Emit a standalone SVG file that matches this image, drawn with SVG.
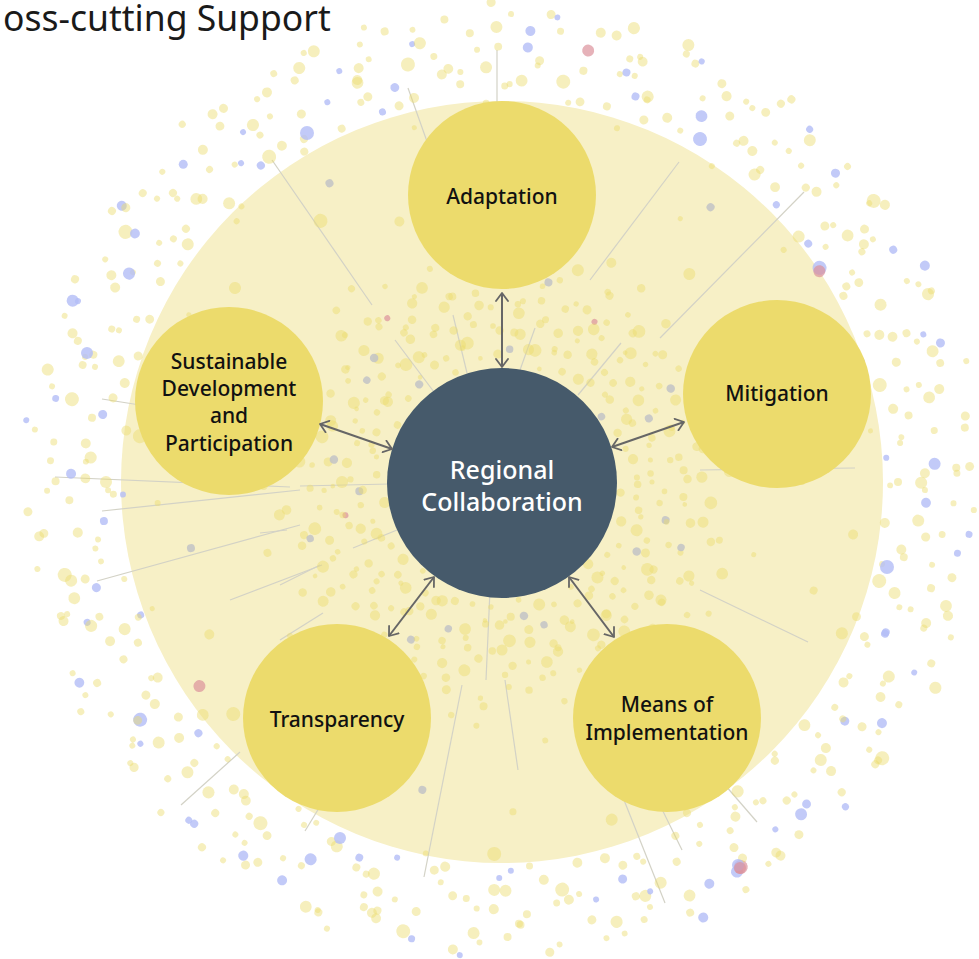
<svg xmlns="http://www.w3.org/2000/svg" width="979" height="959" viewBox="0 0 979 959">
<style>
.bg{fill:#f7f0c6}
.sat{fill:#ecdb6c}
.hub{fill:#465a6b}
.dl{stroke:#d3d2c6;stroke-width:1.2;fill:none}
.dots circle{fill:#ecdb6c;fill-opacity:.45}
.dots circle.b{fill:#b3bdf6;fill-opacity:.8}
.dots circle.r{fill:#dc919b;fill-opacity:.7}
.dots circle.g{fill:#c2c3c6;fill-opacity:.85}
.dots circle.h{fill:#ecdb6c;fill-opacity:.45}
.lbl{font-family:"Noto Sans","Open Sans","Liberation Sans",sans-serif;font-size:21px;fill:#111;text-anchor:middle;font-weight:500}
.hl{font-family:"Noto Sans","Open Sans","Liberation Sans",sans-serif;font-size:25px;fill:#fff;text-anchor:middle;font-weight:500}
.title{font-family:"Noto Sans","Open Sans","Liberation Sans",sans-serif;font-size:35.5px;fill:#1a1a1a}
.arr{stroke:#666;stroke-width:2;fill:none;marker-start:url(#chev);marker-end:url(#chev)}
</style>
<defs>
<marker id="chev" viewBox="0 0 10 14" refX="9" refY="7" markerWidth="10" markerHeight="14" markerUnits="userSpaceOnUse" orient="auto-start-reverse">
<path d="M1,1 L9,7 L1,13" fill="none" stroke="#666" stroke-width="1.8" stroke-linecap="round" stroke-linejoin="round"/>
</marker>
</defs>
<rect width="979" height="959" fill="#fff"/>
<circle class="bg" cx="502" cy="482" r="381"/>
<g id="rays">
<path class="dl" d="M497,50 L497,150"/>
<path class="dl" d="M408,88 L430,150"/>
<path class="dl" d="M272,160 L372,305"/>
<path class="dl" d="M804,192 L660,338"/>
<path class="dl" d="M679,162 L590,280"/>
<path class="dl" d="M55,477 L290,487"/>
<path class="dl" d="M102,511 L300,490"/>
<path class="dl" d="M97,581 L300,525"/>
<path class="dl" d="M102,399 L140,405"/>
<path class="dl" d="M181,805 L240,752"/>
<path class="dl" d="M305,831 L330,790"/>
<path class="dl" d="M424,877 L462,685"/>
<path class="dl" d="M490,590 L486,680"/>
<path class="dl" d="M505,680 L518,770"/>
<path class="dl" d="M665,903 L620,790"/>
<path class="dl" d="M682,850 L655,795"/>
<path class="dl" d="M757,822 L725,785"/>
<path class="dl" d="M808,642 L700,590"/>
<path class="dl" d="M855,468 L700,470"/>
<path class="dl" d="M395,340 L440,400"/>
<path class="dl" d="M453,315 L467,373"/>
<path class="dl" d="M535,328 L520,370"/>
<path class="dl" d="M621,343 L578,395"/>
<path class="dl" d="M300,486 L390,484"/>
<path class="dl" d="M353,548 L397,530"/>
<path class="dl" d="M230,600 L322,565"/>
<path class="dl" d="M260,533 L287,530"/>
<path class="dl" d="M280,585 L320,565"/>
<path class="dl" d="M323,613 L280,640"/>
</g>
<g class="dots" transform="translate(502 482)">
<g id="outerA">
<circle cx="396" r="4" transform="rotate(0)"/>
<circle cx="452" r="3" transform="rotate(2.7)"/>
<circle cx="418" r="6" transform="rotate(5.3)"/>
<circle class="b" cx="470" r="3.5" transform="rotate(6.4)"/>
<circle cx="405" r="5" transform="rotate(9.6)"/>
<circle cx="438" r="3" transform="rotate(10.9)"/>
<circle cx="460" r="4.5" transform="rotate(12)"/>
<circle cx="390" r="7" transform="rotate(14.7)"/>
<circle cx="428" r="3" transform="rotate(17.3)"/>
<circle cx="447" r="5" transform="rotate(18.4)"/>
<circle class="b" cx="412" r="4" transform="rotate(21.6)"/>
<circle cx="466" r="4" transform="rotate(22.9)"/>
<circle cx="400" r="3" transform="rotate(24)"/>
<circle cx="433" r="6" transform="rotate(26.7)"/>
<circle cx="455" r="3.5" transform="rotate(29.3)"/>
<circle cx="396" r="5" transform="rotate(30.4)"/>
<circle cx="452" r="3" transform="rotate(33.6)"/>
<circle class="b" cx="418" r="4.5" transform="rotate(34.9)"/>
<circle cx="470" r="7" transform="rotate(36)"/>
<circle cx="405" r="3" transform="rotate(38.7)"/>
<circle cx="438" r="5" transform="rotate(41.3)"/>
<circle cx="460" r="4" transform="rotate(42.4)"/>
<circle cx="390" r="4" transform="rotate(45.6)"/>
<circle cx="428" r="3" transform="rotate(46.9)"/>
<circle class="b" cx="447" r="6" transform="rotate(48)"/>
<circle cx="412" r="3.5" transform="rotate(50.7)"/>
<circle cx="466" r="5" transform="rotate(53.3)"/>
<circle cx="400" r="3" transform="rotate(54.4)"/>
<circle cx="433" r="4.5" transform="rotate(57.6)"/>
<circle class="b" cx="455" r="6" transform="rotate(58.9)"/>
<circle class="r" cx="453" r="7" transform="rotate(58.2)"/>
<circle cx="396" r="3" transform="rotate(60)"/>
<circle class="b" cx="452" r="5" transform="rotate(62.7)"/>
<circle cx="418" r="4" transform="rotate(65.3)"/>
<circle cx="470" r="4" transform="rotate(66.4)"/>
<circle cx="405" r="3" transform="rotate(69.6)"/>
<circle cx="438" r="6" transform="rotate(70.9)"/>
<circle cx="460" r="3.5" transform="rotate(72)"/>
<circle cx="390" r="5" transform="rotate(74.7)"/>
<circle class="b" cx="428" r="3" transform="rotate(77.3)"/>
<circle cx="447" r="4.5" transform="rotate(78.4)"/>
<circle cx="412" r="7" transform="rotate(81.6)"/>
<circle cx="466" r="3" transform="rotate(82.9)"/>
<circle cx="400" r="5" transform="rotate(84)"/>
<circle cx="433" r="4" transform="rotate(86.7)"/>
<circle cx="455" r="4" transform="rotate(89.3)"/>
<circle class="b" cx="396" r="3" transform="rotate(90.4)"/>
<circle cx="452" r="6" transform="rotate(93.6)"/>
<circle cx="418" r="3.5" transform="rotate(94.9)"/>
<circle cx="470" r="5" transform="rotate(96)"/>
<circle cx="405" r="3" transform="rotate(98.7)"/>
<circle cx="438" r="4.5" transform="rotate(101.3)"/>
<circle cx="460" r="7" transform="rotate(102.4)"/>
<circle class="b" cx="390" r="3" transform="rotate(105.6)"/>
<circle cx="428" r="5" transform="rotate(106.9)"/>
<circle cx="447" r="4" transform="rotate(108)"/>
<circle cx="412" r="4" transform="rotate(110.7)"/>
<circle cx="466" r="3" transform="rotate(113.3)"/>
<circle cx="400" r="6" transform="rotate(114.4)"/>
<circle cx="433" r="3.5" transform="rotate(117.6)"/>
<circle class="b" cx="455" r="5" transform="rotate(118.9)"/>
<circle cx="396" r="3" transform="rotate(120)"/>
<circle cx="452" r="4.5" transform="rotate(122.7)"/>
<circle cx="418" r="7" transform="rotate(125.3)"/>
<circle cx="470" r="3" transform="rotate(126.4)"/>
<circle cx="405" r="5" transform="rotate(129.6)"/>
<circle cx="438" r="4" transform="rotate(130.9)"/>
<circle class="b" cx="460" r="4" transform="rotate(132)"/>
<circle cx="390" r="3" transform="rotate(134.7)"/>
<circle cx="428" r="6" transform="rotate(137.3)"/>
<circle cx="447" r="3.5" transform="rotate(138.4)"/>
<circle cx="412" r="5" transform="rotate(141.6)"/>
<circle cx="466" r="3" transform="rotate(142.9)"/>
<circle cx="400" r="4.5" transform="rotate(144)"/>
<circle class="b" cx="433" r="7" transform="rotate(146.7)"/>
<circle cx="455" r="3" transform="rotate(149.3)"/>
<circle cx="396" r="5" transform="rotate(150.4)"/>
<circle cx="452" r="4" transform="rotate(153.6)"/>
<circle cx="418" r="4" transform="rotate(154.9)"/>
<circle cx="470" r="3" transform="rotate(156)"/>
<circle cx="405" r="6" transform="rotate(158.7)"/>
<circle class="b" cx="438" r="3.5" transform="rotate(161.3)"/>
<circle cx="460" r="5" transform="rotate(162.4)"/>
<circle cx="390" r="3" transform="rotate(165.6)"/>
<circle cx="428" r="4.5" transform="rotate(166.9)"/>
<circle cx="447" r="7" transform="rotate(168)"/>
<circle cx="412" r="3" transform="rotate(170.7)"/>
<circle cx="466" r="5" transform="rotate(173.3)"/>
<circle class="b" cx="400" r="4" transform="rotate(174.4)"/>
<circle cx="433" r="4" transform="rotate(177.6)"/>
<circle cx="455" r="3" transform="rotate(178.9)"/>
<circle cx="396" r="6" transform="rotate(180)"/>
<circle cx="452" r="3.5" transform="rotate(182.7)"/>
<circle cx="418" r="5" transform="rotate(185.3)"/>
<circle cx="470" r="3" transform="rotate(186.4)"/>
<circle class="b" cx="405" r="4.5" transform="rotate(189.6)"/>
<circle cx="438" r="7" transform="rotate(190.9)"/>
<circle cx="460" r="3" transform="rotate(192)"/>
<circle cx="390" r="5" transform="rotate(194.7)"/>
<circle cx="428" r="4" transform="rotate(197.3)"/>
<circle cx="447" r="4" transform="rotate(198.4)"/>
<circle cx="412" r="3" transform="rotate(201.6)"/>
<circle class="b" cx="466" r="6" transform="rotate(202.9)"/>
<circle cx="400" r="3.5" transform="rotate(204)"/>
<circle cx="433" r="5" transform="rotate(206.7)"/>
<circle cx="455" r="3" transform="rotate(209.3)"/>
<circle cx="396" r="4.5" transform="rotate(210.4)"/>
<circle cx="452" r="7" transform="rotate(213.6)"/>
<circle cx="418" r="3" transform="rotate(214.9)"/>
<circle class="b" cx="470" r="5" transform="rotate(216)"/>
<circle cx="405" r="4" transform="rotate(218.7)"/>
<circle cx="438" r="4" transform="rotate(221.3)"/>
<circle cx="460" r="3" transform="rotate(222.4)"/>
<circle cx="390" r="6" transform="rotate(225.6)"/>
<circle cx="428" r="3.5" transform="rotate(226.9)"/>
<circle cx="447" r="5" transform="rotate(228)"/>
<circle class="b" cx="412" r="3" transform="rotate(230.7)"/>
<circle cx="466" r="4.5" transform="rotate(233.3)"/>
<circle cx="400" r="7" transform="rotate(234.4)"/>
<circle cx="433" r="3" transform="rotate(237.6)"/>
<circle cx="455" r="5" transform="rotate(238.9)"/>
<circle cx="396" r="4" transform="rotate(240)"/>
<circle cx="452" r="4" transform="rotate(242.7)"/>
<circle class="b" cx="418" r="3" transform="rotate(245.3)"/>
<circle cx="470" r="6" transform="rotate(246.4)"/>
<circle cx="405" r="3.5" transform="rotate(249.6)"/>
<circle cx="438" r="5" transform="rotate(250.9)"/>
<circle cx="460" r="3" transform="rotate(252)"/>
<circle cx="390" r="4.5" transform="rotate(254.7)"/>
<circle cx="428" r="7" transform="rotate(257.3)"/>
<circle class="b" cx="447" r="3" transform="rotate(258.4)"/>
<circle cx="412" r="5" transform="rotate(261.6)"/>
<circle cx="466" r="4" transform="rotate(262.9)"/>
<circle cx="400" r="4" transform="rotate(264)"/>
<circle cx="433" r="3" transform="rotate(266.7)"/>
<circle cx="455" r="6" transform="rotate(269.3)"/>
<circle cx="396" r="3.5" transform="rotate(270.4)"/>
<circle class="b" cx="452" r="5" transform="rotate(273.6)"/>
<circle cx="418" r="3" transform="rotate(274.9)"/>
<circle cx="470" r="4.5" transform="rotate(276)"/>
<circle cx="405" r="7" transform="rotate(278.7)"/>
<circle class="r" cx="440" r="6" transform="rotate(281.3)"/>
<circle cx="460" r="5" transform="rotate(282.4)"/>
<circle cx="390" r="4" transform="rotate(285.6)"/>
<circle class="b" cx="428" r="4" transform="rotate(286.9)"/>
<circle cx="447" r="3" transform="rotate(288)"/>
<circle cx="412" r="6" transform="rotate(290.7)"/>
<circle cx="466" r="3.5" transform="rotate(293.3)"/>
<circle cx="400" r="5" transform="rotate(294.4)"/>
<circle cx="433" r="3" transform="rotate(297.6)"/>
<circle cx="455" r="4.5" transform="rotate(298.9)"/>
<circle class="b" cx="396" r="7" transform="rotate(300)"/>
<circle cx="452" r="3" transform="rotate(302.7)"/>
<circle cx="418" r="5" transform="rotate(305.3)"/>
<circle cx="470" r="4" transform="rotate(306.4)"/>
<circle cx="405" r="4" transform="rotate(309.6)"/>
<circle cx="438" r="3" transform="rotate(310.9)"/>
<circle cx="460" r="6" transform="rotate(312)"/>
<circle class="b" cx="390" r="3.5" transform="rotate(314.7)"/>
<circle cx="428" r="5" transform="rotate(317.3)"/>
<circle cx="447" r="3" transform="rotate(318.4)"/>
<circle cx="412" r="4.5" transform="rotate(321.6)"/>
<circle cx="466" r="7" transform="rotate(322.9)"/>
<circle cx="400" r="3" transform="rotate(324)"/>
<circle cx="433" r="5" transform="rotate(326.7)"/>
<circle class="b" cx="383" r="7" transform="rotate(326)"/>
<circle class="r" cx="381" r="6" transform="rotate(326.4)"/>
<circle class="b" cx="455" r="4" transform="rotate(329.3)"/>
<circle cx="396" r="4" transform="rotate(330.4)"/>
<circle cx="452" r="3" transform="rotate(333.6)"/>
<circle cx="418" r="6" transform="rotate(334.9)"/>
<circle cx="470" r="3.5" transform="rotate(336)"/>
<circle cx="405" r="5" transform="rotate(338.7)"/>
<circle cx="438" r="3" transform="rotate(341.3)"/>
<circle class="b" cx="460" r="4.5" transform="rotate(342.4)"/>
<circle cx="390" r="7" transform="rotate(345.6)"/>
<circle cx="428" r="3" transform="rotate(346.9)"/>
<circle cx="447" r="5" transform="rotate(348)"/>
<circle cx="412" r="4" transform="rotate(350.7)"/>
<circle cx="466" r="4" transform="rotate(353.3)"/>
<circle cx="400" r="3" transform="rotate(354.4)"/>
<circle class="b" cx="433" r="6" transform="rotate(357.6)"/>
<circle cx="455" r="3.5" transform="rotate(358.9)"/>
</g>
<g id="outerB">
<circle cx="423" r="3" transform="rotate(1.1)"/>
<circle cx="385" r="5" transform="rotate(6.1)"/>
<circle class="b" cx="461" r="3.5" transform="rotate(8.9)"/>
<circle cx="442" r="4" transform="rotate(13.9)"/>
<circle cx="408" r="6" transform="rotate(15.8)"/>
<circle cx="475" r="3" transform="rotate(19.1)"/>
<circle cx="394" r="4.5" transform="rotate(23.1)"/>
<circle cx="431" r="3" transform="rotate(27.9)"/>
<circle class="b" cx="450" r="5" transform="rotate(32.4)"/>
<circle cx="415" r="3.5" transform="rotate(34.8)"/>
<circle cx="468" r="4" transform="rotate(37.1)"/>
<circle cx="423" r="6" transform="rotate(41.1)"/>
<circle cx="385" r="3" transform="rotate(44.9)"/>
<circle cx="461" r="4.5" transform="rotate(49.9)"/>
<circle class="b" cx="442" r="3" transform="rotate(51.8)"/>
<circle cx="408" r="5" transform="rotate(55.1)"/>
<circle cx="475" r="3.5" transform="rotate(59.1)"/>
<circle cx="394" r="4" transform="rotate(63.9)"/>
<circle cx="431" r="6" transform="rotate(68.4)"/>
<circle cx="450" r="3" transform="rotate(70.8)"/>
<circle class="b" cx="415" r="4.5" transform="rotate(73.1)"/>
<circle cx="468" r="3" transform="rotate(77.1)"/>
<circle cx="423" r="5" transform="rotate(80.9)"/>
<circle cx="385" r="3.5" transform="rotate(85.9)"/>
<circle cx="442" r="4" transform="rotate(87.8)"/>
<circle cx="408" r="6" transform="rotate(91.1)"/>
<circle class="b" cx="475" r="3" transform="rotate(95.1)"/>
<circle cx="394" r="4.5" transform="rotate(99.9)"/>
<circle cx="431" r="3" transform="rotate(104.4)"/>
<circle cx="450" r="5" transform="rotate(106.8)"/>
<circle cx="415" r="3.5" transform="rotate(109.1)"/>
<circle cx="468" r="4" transform="rotate(113.1)"/>
<circle class="b" cx="423" r="6" transform="rotate(116.9)"/>
<circle cx="385" r="3" transform="rotate(121.9)"/>
<circle cx="461" r="4.5" transform="rotate(123.8)"/>
<circle cx="442" r="3" transform="rotate(127.1)"/>
<circle cx="408" r="5" transform="rotate(131.1)"/>
<circle cx="475" r="3.5" transform="rotate(135.9)"/>
<circle class="b" cx="394" r="4" transform="rotate(140.4)"/>
<circle cx="431" r="6" transform="rotate(142.8)"/>
<circle cx="450" r="3" transform="rotate(145.1)"/>
<circle cx="415" r="4.5" transform="rotate(149.1)"/>
<circle cx="468" r="3" transform="rotate(152.9)"/>
<circle cx="423" r="5" transform="rotate(157.9)"/>
<circle class="b" cx="385" r="3.5" transform="rotate(159.8)"/>
<circle cx="461" r="4" transform="rotate(163.1)"/>
<circle cx="442" r="6" transform="rotate(167.1)"/>
<circle cx="408" r="3" transform="rotate(171.9)"/>
<circle cx="475" r="4.5" transform="rotate(176.4)"/>
<circle cx="394" r="3" transform="rotate(178.8)"/>
<circle class="b" cx="431" r="5" transform="rotate(181.1)"/>
<circle cx="450" r="3.5" transform="rotate(185.1)"/>
<circle cx="415" r="4" transform="rotate(188.9)"/>
<circle cx="468" r="6" transform="rotate(193.9)"/>
<circle cx="423" r="3" transform="rotate(195.8)"/>
<circle cx="385" r="4.5" transform="rotate(199.1)"/>
<circle class="b" cx="461" r="3" transform="rotate(203.1)"/>
<circle cx="442" r="5" transform="rotate(207.9)"/>
<circle cx="408" r="3.5" transform="rotate(212.4)"/>
<circle cx="475" r="4" transform="rotate(214.8)"/>
<circle cx="394" r="6" transform="rotate(217.1)"/>
<circle cx="431" r="3" transform="rotate(221.1)"/>
<circle class="b" cx="450" r="4.5" transform="rotate(224.9)"/>
<circle cx="415" r="3" transform="rotate(229.9)"/>
<circle cx="468" r="5" transform="rotate(231.8)"/>
<circle cx="423" r="3.5" transform="rotate(235.1)"/>
<circle cx="385" r="4" transform="rotate(239.1)"/>
<circle cx="461" r="6" transform="rotate(243.9)"/>
<circle class="b" cx="442" r="3" transform="rotate(248.4)"/>
<circle cx="408" r="4.5" transform="rotate(250.8)"/>
<circle cx="475" r="3" transform="rotate(253.1)"/>
<circle cx="394" r="5" transform="rotate(257.1)"/>
<circle cx="431" r="3.5" transform="rotate(260.9)"/>
<circle cx="450" r="4" transform="rotate(265.9)"/>
<circle cx="415" r="6" transform="rotate(267.8)"/>
<circle cx="468" r="3" transform="rotate(271.1)"/>
<circle cx="423" r="4.5" transform="rotate(275.1)"/>
<circle cx="385" r="3" transform="rotate(279.9)"/>
<circle cx="461" r="5" transform="rotate(284.4)"/>
<circle cx="442" r="3.5" transform="rotate(286.8)"/>
<circle class="b" cx="408" r="4" transform="rotate(289.1)"/>
<circle cx="475" r="6" transform="rotate(293.1)"/>
<circle cx="394" r="3" transform="rotate(296.9)"/>
<circle cx="431" r="4.5" transform="rotate(301.9)"/>
<circle cx="450" r="3" transform="rotate(303.8)"/>
<circle cx="415" r="5" transform="rotate(307.1)"/>
<circle class="b" cx="468" r="3.5" transform="rotate(311.1)"/>
<circle cx="423" r="4" transform="rotate(315.9)"/>
<circle cx="385" r="6" transform="rotate(320.4)"/>
<circle cx="461" r="3" transform="rotate(322.8)"/>
<circle cx="442" r="4.5" transform="rotate(325.1)"/>
<circle cx="408" r="3" transform="rotate(329.1)"/>
<circle class="b" cx="475" r="5" transform="rotate(332.9)"/>
<circle cx="394" r="3.5" transform="rotate(337.9)"/>
<circle cx="431" r="4" transform="rotate(339.8)"/>
<circle cx="450" r="6" transform="rotate(343.1)"/>
<circle cx="415" r="3" transform="rotate(347.1)"/>
<circle cx="468" r="4.5" transform="rotate(351.9)"/>
<circle class="b" cx="385" r="3" transform="rotate(356.4)"/>
<circle cx="423" r="5" transform="rotate(358.8)"/>
</g>
<use href="#outerB" transform="rotate(181.7) scale(0.985)"/>
<use href="#outerB" transform="rotate(92.3) scale(1.01)"/>
<g id="midring">
<circle cx="300" r="3" transform="rotate(0)"/>
<circle cx="355" r="5" transform="rotate(8.5)"/>
<circle cx="262" r="2.5" transform="rotate(16.1)"/>
<circle cx="330" r="4" transform="rotate(19.2)"/>
<circle cx="372" r="6" transform="rotate(24)"/>
<circle cx="245" r="3" transform="rotate(32.5)"/>
<circle class="g" cx="318" r="4" transform="rotate(40.1)"/>
<circle cx="345" r="7" transform="rotate(43.2)"/>
<circle cx="280" r="3" transform="rotate(48)"/>
<circle cx="365" r="5" transform="rotate(56.5)"/>
<circle cx="295" r="2.5" transform="rotate(64.1)"/>
<circle cx="300" r="4" transform="rotate(67.2)"/>
<circle cx="355" r="6" transform="rotate(72)"/>
<circle cx="262" r="3" transform="rotate(80.5)"/>
<circle cx="330" r="3.5" transform="rotate(88.1)"/>
<circle cx="372" r="7" transform="rotate(91.2)"/>
<circle cx="245" r="3" transform="rotate(96)"/>
<circle class="g" cx="318" r="4" transform="rotate(104.5)"/>
<circle cx="345" r="2.5" transform="rotate(112.1)"/>
<circle cx="280" r="4" transform="rotate(115.2)"/>
<circle cx="365" r="6" transform="rotate(120)"/>
<circle cx="295" r="3" transform="rotate(128.5)"/>
<circle cx="300" r="3.5" transform="rotate(136.1)"/>
<circle cx="355" r="7" transform="rotate(139.2)"/>
<circle cx="262" r="3" transform="rotate(144)"/>
<circle cx="330" r="5" transform="rotate(152.5)"/>
<circle cx="372" r="2.5" transform="rotate(160.1)"/>
<circle cx="245" r="4" transform="rotate(163.2)"/>
<circle class="g" cx="318" r="4" transform="rotate(168)"/>
<circle cx="345" r="3" transform="rotate(176.5)"/>
<circle cx="280" r="3.5" transform="rotate(184.1)"/>
<circle cx="365" r="7" transform="rotate(187.2)"/>
<circle cx="295" r="3" transform="rotate(192)"/>
<circle cx="300" r="5" transform="rotate(200.5)"/>
<circle cx="355" r="2.5" transform="rotate(208.1)"/>
<circle cx="262" r="4" transform="rotate(211.2)"/>
<circle cx="330" r="6" transform="rotate(216)"/>
<circle cx="372" r="3" transform="rotate(224.5)"/>
<circle cx="245" r="3.5" transform="rotate(232.1)"/>
<circle cx="318" r="7" transform="rotate(235.2)"/>
<circle class="g" cx="345" r="4" transform="rotate(240)"/>
<circle cx="280" r="5" transform="rotate(248.5)"/>
<circle cx="365" r="2.5" transform="rotate(256.1)"/>
<circle cx="295" r="4" transform="rotate(259.2)"/>
<circle cx="300" r="6" transform="rotate(264)"/>
<circle cx="355" r="3" transform="rotate(272.5)"/>
<circle cx="262" r="3.5" transform="rotate(280.1)"/>
<circle cx="330" r="7" transform="rotate(283.2)"/>
<circle cx="372" r="3" transform="rotate(288)"/>
<circle cx="245" r="5" transform="rotate(296.5)"/>
<circle cx="318" r="2.5" transform="rotate(304.1)"/>
<circle class="g" cx="345" r="4" transform="rotate(307.2)"/>
<circle cx="280" r="6" transform="rotate(312)"/>
<circle cx="365" r="3" transform="rotate(320.5)"/>
<circle cx="295" r="3.5" transform="rotate(328.1)"/>
<circle cx="300" r="7" transform="rotate(331.2)"/>
<circle cx="262" r="3" transform="rotate(336)"/>
<circle cx="330" r="5" transform="rotate(344.5)"/>
<circle cx="372" r="2.5" transform="rotate(352.1)"/>
<circle cx="245" r="4" transform="rotate(355.2)"/>
<circle class="r" cx="365" r="6" transform="rotate(146)"/>
<circle class="r" cx="200" r="3" transform="rotate(235)"/>
<circle class="r" cx="185" r="3" transform="rotate(300)"/>
<circle class="r" cx="160" r="3" transform="rotate(168)"/>
<circle class="r" cx="210" r="5" transform="rotate(56)"/>
</g>
<g id="inner">
<circle cx="150" r="2.5" transform="rotate(0)"/>
<circle cx="182" r="4" transform="rotate(4.7)"/>
<circle cx="135" r="3" transform="rotate(6.6)"/>
<circle cx="205" r="5.5" transform="rotate(11.3)"/>
<circle class="g" cx="168" r="4" transform="rotate(13.1)"/>
<circle cx="225" r="3.5" transform="rotate(15)"/>
<circle cx="143" r="6" transform="rotate(19.7)"/>
<circle cx="192" r="3" transform="rotate(21.6)"/>
<circle cx="160" r="4.5" transform="rotate(26.3)"/>
<circle cx="215" r="2.5" transform="rotate(28.1)"/>
<circle cx="175" r="4" transform="rotate(30)"/>
<circle cx="128" r="3" transform="rotate(34.7)"/>
<circle cx="198" r="5.5" transform="rotate(36.6)"/>
<circle class="h" cx="150" r="4" transform="rotate(41.3)"/>
<circle cx="182" r="3.5" transform="rotate(43.1)"/>
<circle cx="135" r="6" transform="rotate(45)"/>
<circle cx="205" r="3" transform="rotate(49.7)"/>
<circle cx="168" r="4.5" transform="rotate(51.6)"/>
<circle cx="225" r="2.5" transform="rotate(56.3)"/>
<circle cx="143" r="4" transform="rotate(58.1)"/>
<circle cx="192" r="3" transform="rotate(60)"/>
<circle cx="160" r="5.5" transform="rotate(64.7)"/>
<circle class="g" cx="215" r="4" transform="rotate(66.6)"/>
<circle cx="175" r="3.5" transform="rotate(71.3)"/>
<circle cx="128" r="6" transform="rotate(73.1)"/>
<circle cx="198" r="3" transform="rotate(75)"/>
<circle cx="150" r="4.5" transform="rotate(79.7)"/>
<circle cx="182" r="2.5" transform="rotate(81.6)"/>
<circle cx="135" r="4" transform="rotate(86.3)"/>
<circle cx="205" r="3" transform="rotate(88.1)"/>
<circle cx="168" r="5.5" transform="rotate(90)"/>
<circle class="h" cx="225" r="4" transform="rotate(94.7)"/>
<circle cx="143" r="3.5" transform="rotate(96.6)"/>
<circle cx="192" r="6" transform="rotate(101.3)"/>
<circle cx="160" r="3" transform="rotate(103.1)"/>
<circle cx="215" r="4.5" transform="rotate(105)"/>
<circle cx="175" r="2.5" transform="rotate(109.7)"/>
<circle cx="128" r="4" transform="rotate(111.6)"/>
<circle cx="198" r="3" transform="rotate(116.3)"/>
<circle cx="150" r="5.5" transform="rotate(118.1)"/>
<circle class="g" cx="182" r="4" transform="rotate(120)"/>
<circle cx="135" r="3.5" transform="rotate(124.7)"/>
<circle cx="205" r="6" transform="rotate(126.6)"/>
<circle cx="168" r="3" transform="rotate(131.3)"/>
<circle cx="225" r="4.5" transform="rotate(133.1)"/>
<circle cx="143" r="2.5" transform="rotate(135)"/>
<circle cx="192" r="4" transform="rotate(139.7)"/>
<circle cx="160" r="3" transform="rotate(141.6)"/>
<circle cx="215" r="5.5" transform="rotate(146.3)"/>
<circle class="h" cx="175" r="4" transform="rotate(148.1)"/>
<circle cx="128" r="3.5" transform="rotate(150)"/>
<circle cx="198" r="6" transform="rotate(154.7)"/>
<circle cx="150" r="3" transform="rotate(156.6)"/>
<circle cx="182" r="4.5" transform="rotate(161.3)"/>
<circle cx="135" r="2.5" transform="rotate(163.1)"/>
<circle cx="205" r="4" transform="rotate(165)"/>
<circle cx="168" r="3" transform="rotate(169.7)"/>
<circle cx="225" r="5.5" transform="rotate(171.6)"/>
<circle class="g" cx="143" r="4" transform="rotate(176.3)"/>
<circle cx="192" r="3.5" transform="rotate(178.1)"/>
<circle cx="160" r="6" transform="rotate(180)"/>
<circle cx="215" r="3" transform="rotate(184.7)"/>
<circle cx="175" r="4.5" transform="rotate(186.6)"/>
<circle cx="128" r="2.5" transform="rotate(191.3)"/>
<circle cx="198" r="4" transform="rotate(193.1)"/>
<circle cx="150" r="3" transform="rotate(195)"/>
<circle cx="182" r="5.5" transform="rotate(199.7)"/>
<circle class="h" cx="135" r="4" transform="rotate(201.6)"/>
<circle cx="205" r="3.5" transform="rotate(206.3)"/>
<circle cx="168" r="6" transform="rotate(208.1)"/>
<circle cx="225" r="3" transform="rotate(210)"/>
<circle cx="143" r="4.5" transform="rotate(214.7)"/>
<circle cx="192" r="2.5" transform="rotate(216.6)"/>
<circle cx="160" r="4" transform="rotate(221.3)"/>
<circle cx="215" r="3" transform="rotate(223.1)"/>
<circle cx="175" r="5.5" transform="rotate(225)"/>
<circle class="g" cx="128" r="4" transform="rotate(229.7)"/>
<circle cx="198" r="3.5" transform="rotate(231.6)"/>
<circle cx="150" r="6" transform="rotate(236.3)"/>
<circle cx="182" r="3" transform="rotate(238.1)"/>
<circle cx="135" r="4.5" transform="rotate(240)"/>
<circle cx="205" r="2.5" transform="rotate(244.7)"/>
<circle cx="168" r="4" transform="rotate(246.6)"/>
<circle cx="225" r="3" transform="rotate(251.3)"/>
<circle cx="143" r="5.5" transform="rotate(253.1)"/>
<circle class="h" cx="192" r="4" transform="rotate(255)"/>
<circle cx="160" r="3.5" transform="rotate(259.7)"/>
<circle cx="215" r="6" transform="rotate(261.6)"/>
<circle cx="175" r="3" transform="rotate(266.3)"/>
<circle cx="128" r="4.5" transform="rotate(268.1)"/>
<circle cx="198" r="2.5" transform="rotate(270)"/>
<circle cx="150" r="4" transform="rotate(274.7)"/>
<circle cx="182" r="3" transform="rotate(276.6)"/>
<circle cx="135" r="5.5" transform="rotate(281.3)"/>
<circle class="g" cx="205" r="4" transform="rotate(283.1)"/>
<circle cx="168" r="3.5" transform="rotate(285)"/>
<circle cx="225" r="6" transform="rotate(289.7)"/>
<circle cx="143" r="3" transform="rotate(291.6)"/>
<circle cx="192" r="4.5" transform="rotate(296.3)"/>
<circle cx="160" r="2.5" transform="rotate(298.1)"/>
<circle cx="215" r="4" transform="rotate(300)"/>
<circle cx="175" r="3" transform="rotate(304.7)"/>
<circle cx="128" r="5.5" transform="rotate(306.6)"/>
<circle class="h" cx="198" r="4" transform="rotate(311.3)"/>
<circle cx="150" r="3.5" transform="rotate(313.1)"/>
<circle cx="182" r="6" transform="rotate(315)"/>
<circle cx="135" r="3" transform="rotate(319.7)"/>
<circle cx="205" r="4.5" transform="rotate(321.6)"/>
<circle cx="168" r="2.5" transform="rotate(326.3)"/>
<circle cx="225" r="4" transform="rotate(328.1)"/>
<circle cx="143" r="3" transform="rotate(330)"/>
<circle cx="192" r="5.5" transform="rotate(334.7)"/>
<circle class="g" cx="160" r="4" transform="rotate(336.6)"/>
<circle cx="215" r="3.5" transform="rotate(341.3)"/>
<circle cx="175" r="6" transform="rotate(343.1)"/>
<circle cx="128" r="3" transform="rotate(345)"/>
<circle cx="198" r="4.5" transform="rotate(349.7)"/>
<circle cx="150" r="2.5" transform="rotate(351.6)"/>
<circle cx="182" r="4" transform="rotate(356.3)"/>
<circle cx="135" r="3" transform="rotate(358.1)"/>
</g>
<use href="#inner" transform="rotate(97) scale(0.93)"/>
<use href="#inner" transform="rotate(211) scale(1.06)"/>
<circle class="b" cx="0" cy="0" r="7" transform="translate(-195 -349)"/>
<circle class="b" cx="0" cy="0" r="7" transform="translate(385 85)"/>
<circle class="b" cx="0" cy="0" r="6" transform="translate(-415 -129)"/>
<circle class="b" cx="0" cy="0" r="6" transform="translate(-162 356)"/>
<circle class="b" cx="0" cy="0" r="6" transform="translate(236 383)"/>
<circle class="r" cx="0" cy="0" r="6" transform="translate(238 386)"/>
</g>
<g id="node-adaptation">
<circle class="sat" cx="502" cy="195" r="94"/>
<text class="lbl" x="502" y="204">Adaptation</text>
</g>
<g id="node-mitigation">
<circle class="sat" cx="777" cy="394" r="94"/>
<text class="lbl" x="777" y="401">Mitigation</text>
</g>
<g id="node-means">
<circle class="sat" cx="667" cy="718" r="94"/>
<text class="lbl" x="667" y="712">Means of</text>
<text class="lbl" x="667" y="740">Implementation</text>
</g>
<g id="node-transparency">
<circle class="sat" cx="337" cy="718" r="94"/>
<text class="lbl" x="337" y="727">Transparency</text>
</g>
<g id="node-sustainable">
<circle class="sat" cx="229" cy="401" r="94"/>
<text class="lbl" x="229" y="369">Sustainable</text>
<text class="lbl" x="229" y="396">Development</text>
<text class="lbl" x="229" y="423">and</text>
<text class="lbl" x="229" y="451">Participation</text>
</g>
<g id="node-regional">
<circle class="hub" cx="502" cy="483" r="115"/>
<text class="hl" x="502" y="479">Regional</text>
<text class="hl" x="502" y="511">Collaboration</text>
</g>
<g id="connectors">
<path class="arr" d="M502,293 L502,367"/>
<path class="arr" d="M684,422 L612,447"/>
<path class="arr" d="M320,424 L392,449"/>
<path class="arr" d="M389,636 L434,577"/>
<path class="arr" d="M614,637 L569,577"/>
</g>
<text class="title" x="3" y="31">oss-cutting Support</text>
</svg>
